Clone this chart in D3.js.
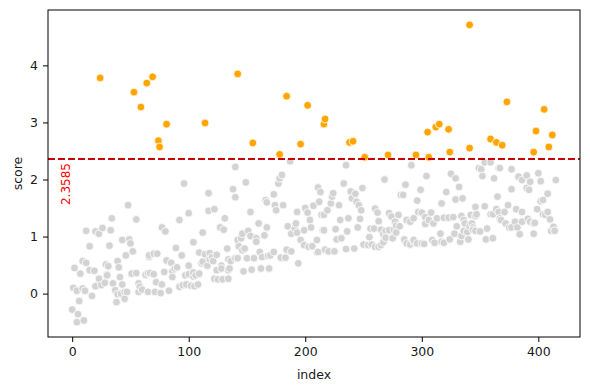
<!DOCTYPE html>
<html>
<head>
<meta charset="utf-8">
<script src="https://cdn.jsdelivr.net/npm/d3@7"></script>
<style>
  body { margin: 0; background: #fff; }
  .chart { width: 590px; height: 390px; }
  text { font-family: "DejaVu Sans", sans-serif; fill: #1a1a1a; }
  .axis text { font-size: 12.5px; fill: #1a1a1a; }
  .axis path, .axis line { stroke: #000; stroke-width: 1; }
</style>
</head>
<body>
<div class="chart"></div>
<script>
// cut-off value drawn as the dashed line
const threshold = 2.3585;

// points, index and score, ten per line
const indexValues = [
  48, 34, 55, 12, 20, 23, 26, 33, 15, 32,
  43, 49, 50, 52, 46, 39, 40, 9, 12, 2,
  7, 15, 19, 29, 31, 30, 51, 55, 63, 65,
  66, 41, 23, 25, 28, 30, 20, 35, 37, 39,
  43, 42, 45, 47, 38, 45, 1, 4, 9, 11,
  17, 6, 0, 5, 10, 4, 57, 58, 60, 57,
  140, 96, 117, 138, 140, 117, 122, 100, 92, 131,
  77, 80, 127, 130, 112, 104, 89, 133, 142, 66,
  70, 73, 94, 109, 114, 118, 120, 124, 111, 112,
  116, 121, 118, 81, 85, 134, 136, 140, 128, 134,
  100, 67, 70, 79, 86, 88, 90, 86, 97, 100,
  104, 106, 109, 104, 124, 128, 135, 122, 125, 129,
  134, 72, 77, 65, 71, 76, 83, 92, 95, 98,
  102, 105, 108,
  187, 180, 178, 177, 149, 173, 166, 167, 174, 181,
  175, 153, 193, 200, 202, 207, 211, 213, 212, 214,
  204, 160, 167, 146, 151, 153, 145, 143, 158, 158,
  165, 185, 192, 191, 188, 193, 199, 205, 210, 215,
  196, 199, 203, 206, 210, 211, 217, 184, 188, 179,
  183, 148, 146, 142, 150, 156, 161, 163, 168, 170,
  173, 194, 147, 154, 162, 169,
  235, 291, 268, 233, 286, 249, 224, 223, 222, 219,
  216, 239, 243, 240, 244, 246, 248, 229, 282, 284,
  260, 262, 272, 274, 280, 277, 278, 276, 263, 230,
  237, 247, 287, 290, 293, 216, 226, 236, 245, 256,
  259, 265, 269, 272, 281, 255, 267, 269, 275, 278,
  227, 231, 285, 287, 290, 293, 250, 254, 257, 260,
  263, 265, 267, 217, 220, 225, 235, 242,
  354, 359, 304, 325, 329, 349, 351, 352, 362, 366,
  332, 299, 321, 329, 335, 296, 317, 365, 346, 354,
  297, 300, 308, 359, 361, 364, 366, 367, 303, 306,
  313, 319, 323, 327, 334, 336, 342, 346, 347, 303,
  310, 337, 341, 343, 344, 330, 336, 339, 344, 346,
  350, 356, 316, 328, 334, 340, 355, 361, 324, 333,
  293, 296, 300, 302, 309, 311, 317, 319,
  367, 377, 383, 386, 390, 393, 400, 402, 415, 377,
  390, 392, 408, 402, 404, 374, 371, 381, 386, 399,
  404, 406, 408, 410, 367, 368, 372, 375, 377, 380,
  382, 386, 384, 391, 393, 396, 397, 396, 411, 414,
  413,
  24, 53, 64, 69, 59, 81, 74, 75, 114, 142,
  155, 178, 184, 196, 202, 216, 217, 238, 241, 251,
  271, 295, 305, 306, 312, 315, 323, 324, 341, 341,
  359, 364, 369, 373, 396, 398, 405, 409, 412
];

const scoreValues = [
  1.55, 1.32, 1.30, 1.10, 1.09, 1.05, 1.15, 1.11, 0.83, 0.84,
  0.94, 0.95, 0.88, 0.74, 0.67, 0.57, 0.46, 0.57, 0.54, 0.45,
  0.35, 0.41, 0.40, 0.51, 0.48, 0.34, 0.35, 0.36, 0.33, 0.36,
  0.64, 0.29, 0.26, 0.15, 0.19, 0.32, 0.13, 0.18, 0.06, -0.01,
  0.16, 0.00, 0.03, 0.03, -0.15, -0.09, 0.10, 0.05, 0.09, 0.05,
  -0.04, -0.13, -0.28, -0.36, -0.47, -0.50, 0.18, 0.12, 0.07, 0.03,
  2.22, 1.93, 1.76, 1.83, 1.69, 1.45, 1.48, 1.41, 1.29, 1.32,
  1.16, 1.09, 1.16, 1.12, 1.07, 0.90, 0.80, 0.79, 0.94, 0.67,
  0.70, 0.70, 0.67, 0.72, 0.69, 0.71, 0.64, 0.68, 0.53, 0.56,
  0.49, 0.57, 0.60, 0.58, 0.54, 0.60, 0.57, 0.62, 0.49, 0.41,
  0.49, 0.36, 0.34, 0.38, 0.39, 0.44, 0.46, 0.29, 0.32, 0.34,
  0.30, 0.32, 0.35, 0.37, 0.41, 0.44, 0.44, 0.26, 0.25, 0.25,
  0.26, 0.20, 0.16, 0.03, 0.03, 0.01, 0.05, 0.12, 0.15, 0.16,
  0.14, 0.13, 0.16,
  2.32, 2.08, 2.02, 1.93, 1.95, 1.74, 1.64, 1.60, 1.55, 1.55,
  1.46, 1.43, 1.43, 1.50, 1.42, 1.54, 1.86, 1.78, 1.61, 1.38,
  1.29, 1.23, 1.16, 1.05, 1.10, 1.01, 0.97, 0.83, 0.97, 0.91,
  1.02, 1.18, 1.23, 1.14, 1.05, 1.07, 1.11, 1.16, 0.94, 1.11,
  0.94, 0.85, 0.82, 0.83, 0.72, 0.73, 0.77, 0.77, 0.74, 0.63,
  0.63, 0.79, 0.76, 0.62, 0.62, 0.62, 0.73, 0.64, 0.66, 0.67,
  0.73, 0.53, 0.39, 0.42, 0.44, 0.44,
  2.25, 2.25, 2.00, 1.93, 1.91, 1.85, 1.76, 1.70, 1.58, 1.46,
  1.38, 1.79, 1.75, 1.67, 1.61, 1.55, 1.46, 1.55, 1.73, 1.73,
  1.49, 1.42, 1.41, 1.35, 1.38, 1.26, 1.19, 1.12, 1.27, 1.29,
  1.32, 1.31, 1.29, 1.26, 1.32, 1.11, 1.13, 1.09, 1.16, 1.14,
  1.14, 1.12, 1.10, 1.11, 1.18, 0.99, 1.04, 0.98, 0.97, 1.07,
  0.95, 0.97, 0.95, 0.88, 0.86, 0.91, 0.86, 0.85, 0.86, 0.82,
  0.82, 0.85, 0.90, 0.77, 0.74, 0.74, 0.78, 0.79,
  2.30, 2.30, 2.06, 2.10, 2.02, 2.20, 2.18, 2.06, 2.02, 2.20,
  1.87, 1.82, 1.78, 1.65, 1.67, 1.63, 1.58, 1.70, 1.52, 1.53,
  1.43, 1.42, 1.42, 1.39, 1.39, 1.48, 1.43, 1.30, 1.34, 1.29,
  1.32, 1.33, 1.33, 1.34, 1.36, 1.29, 1.38, 1.36, 1.39, 1.22,
  1.23, 1.23, 1.18, 1.23, 1.16, 1.18, 1.10, 1.08, 1.12, 1.10,
  1.09, 1.14, 1.05, 1.05, 1.01, 0.95, 0.95, 0.97, 0.95, 0.91,
  0.94, 0.88, 0.88, 0.87, 0.94, 0.89, 0.91, 0.89,
  2.20, 2.18, 2.05, 1.99, 2.07, 1.96, 2.11, 1.97, 1.99, 1.83,
  1.85, 1.82, 1.75, 1.62, 1.64, 1.55, 1.43, 1.48, 1.43, 1.48,
  1.39, 1.38, 1.43, 1.30, 1.32, 1.29, 1.23, 1.16, 1.16, 1.26,
  1.16, 1.26, 1.04, 1.31, 1.26, 1.23, 1.24, 1.05, 1.10, 1.10,
  1.17,
  3.78, 3.53, 3.69, 3.80, 3.27, 2.97, 2.68, 2.57, 2.99, 3.85,
  2.64, 2.44, 3.46, 2.62, 3.30, 2.97, 3.06, 2.65, 2.67, 2.39,
  2.43, 2.43, 2.83, 2.39, 2.92, 2.97, 2.88, 2.48, 4.71, 2.55,
  2.71, 2.65, 2.60, 3.36, 2.48, 2.85, 3.23, 2.57, 2.78
];

const xTicks = [0, 100, 200, 300, 400];
const yTicks = [0, 1, 2, 3, 4];

let margin;
let width;
let height;
let xScale;
let yScale;
let svg;
let plot;
let theData;

init();

function init() {
  theData = indexValues.map((idx, i) => {
    return { index: idx, score: scoreValues[i] };
  });
  // keep them in index order, like the original plot draws them
  theData.sort((a, b) => a.index - b.index);

  setDimensions();
  setScales();
  drawChart();
}

function setDimensions() {
  margin = { top: 10, right: 10, bottom: 53, left: 48 };
  width = 590 - margin.left - margin.right;
  height = 390 - margin.top - margin.bottom;
}

// 5% padding on each side, like matplotlib's default margins
function padded(extent) {
  let pad = (extent[1] - extent[0]) * 0.05;
  return [extent[0] - pad, extent[1] + pad];
}

function setScales() {
  xScale = d3.scaleLinear()
    .range([0, width])
    .domain(padded(d3.extent(theData, d => d.index)));

  yScale = d3.scaleLinear()
    .range([height, 0])
    .domain(padded(d3.extent(theData, d => d.score)));
}

function drawChart() {
  svg = d3.select(".chart").append("svg")
    .attr("width", 590)
    .attr("height", 390);

  plot = svg.append("g")
    .attr("transform", `translate(${margin.left},${margin.top})`);

  // points
  plot.append("g")
    .selectAll("circle")
    .data(theData)
    .enter()
    .append("circle")
    .attr("cx", d => xScale(d.index))
    .attr("cy", d => yScale(d.score))
    .attr("r", 3.9)
    .attr("fill", d => d.score > threshold ? "#ffa500" : "#d3d3d3")
    .attr("stroke", "#fff")
    .attr("stroke-width", 0.8);

  // threshold line and its label
  plot.append("line")
    .attr("x1", 0)
    .attr("x2", width)
    .attr("y1", yScale(threshold))
    .attr("y2", yScale(threshold))
    .attr("stroke", "#cc0000")
    .attr("stroke-width", 2)
    .attr("stroke-dasharray", "7,3");

  plot.append("text")
    .attr("transform", `translate(${xScale(0) - 2},${yScale(threshold) + 4}) rotate(-90)`)
    .attr("text-anchor", "end")
    .style("font-size", "12px")
    .style("fill", "#ff0000")
    .text(threshold.toString());

  // axes
  plot.append("g")
    .attr("class", "axis")
    .attr("transform", `translate(0,${height})`)
    .call(d3.axisBottom(xScale).tickValues(xTicks).tickFormat(d3.format("d")).tickSize(5).tickPadding(5).tickSizeOuter(0))
    .call(g => g.select(".domain").remove());

  plot.append("g")
    .attr("class", "axis")
    .call(d3.axisLeft(yScale).tickValues(yTicks).tickFormat(d3.format("d")).tickSize(5).tickPadding(5).tickSizeOuter(0))
    .call(g => g.select(".domain").remove());

  // frame
  plot.append("rect")
    .attr("x", 0)
    .attr("y", 0)
    .attr("width", width)
    .attr("height", height)
    .attr("fill", "none")
    .attr("stroke", "#000")
    .attr("stroke-width", 1);

  // axis titles
  svg.append("text")
    .attr("x", margin.left + width / 2)
    .attr("y", 379)
    .attr("text-anchor", "middle")
    .style("font-size", "12.5px")
    .text("index");

  svg.append("text")
    .attr("transform", `translate(22,${margin.top + height / 2}) rotate(-90)`)
    .attr("text-anchor", "middle")
    .style("font-size", "12.5px")
    .text("score");
}
</script>
</body>
</html>
